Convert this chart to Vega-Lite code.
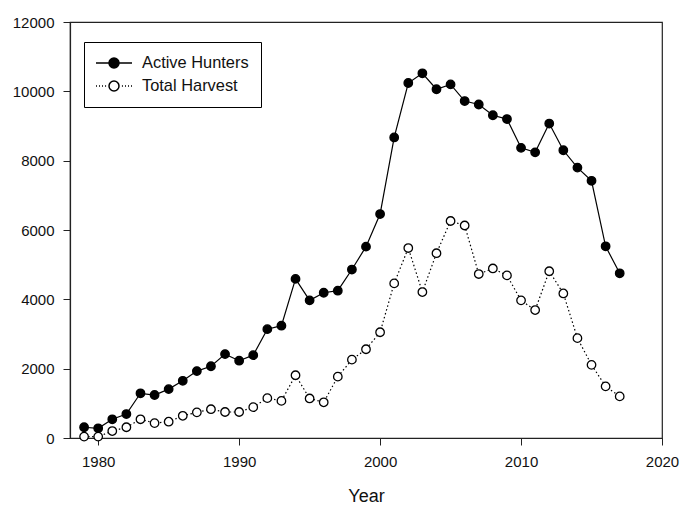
{
  "$schema": "https://vega.github.io/schema/vega-lite/v6.json",
  "width": 592,
  "height": 416,
  "autosize": "none",
  "padding": {"left": 70, "top": 22, "right": 21, "bottom": 68},
  "background": "white",
  "data": {
    "values": [
      {"year": 1979, "series": "Active Hunters", "value": 310},
      {"year": 1980, "series": "Active Hunters", "value": 280},
      {"year": 1981, "series": "Active Hunters", "value": 540},
      {"year": 1982, "series": "Active Hunters", "value": 690},
      {"year": 1983, "series": "Active Hunters", "value": 1290},
      {"year": 1984, "series": "Active Hunters", "value": 1240},
      {"year": 1985, "series": "Active Hunters", "value": 1410},
      {"year": 1986, "series": "Active Hunters", "value": 1650},
      {"year": 1987, "series": "Active Hunters", "value": 1930},
      {"year": 1988, "series": "Active Hunters", "value": 2070},
      {"year": 1989, "series": "Active Hunters", "value": 2420},
      {"year": 1990, "series": "Active Hunters", "value": 2230},
      {"year": 1991, "series": "Active Hunters", "value": 2390},
      {"year": 1992, "series": "Active Hunters", "value": 3140},
      {"year": 1993, "series": "Active Hunters", "value": 3240},
      {"year": 1994, "series": "Active Hunters", "value": 4590},
      {"year": 1995, "series": "Active Hunters", "value": 3970},
      {"year": 1996, "series": "Active Hunters", "value": 4190},
      {"year": 1997, "series": "Active Hunters", "value": 4250},
      {"year": 1998, "series": "Active Hunters", "value": 4860},
      {"year": 1999, "series": "Active Hunters", "value": 5520},
      {"year": 2000, "series": "Active Hunters", "value": 6460},
      {"year": 2001, "series": "Active Hunters", "value": 8670},
      {"year": 2002, "series": "Active Hunters", "value": 10240},
      {"year": 2003, "series": "Active Hunters", "value": 10520},
      {"year": 2004, "series": "Active Hunters", "value": 10060},
      {"year": 2005, "series": "Active Hunters", "value": 10200},
      {"year": 2006, "series": "Active Hunters", "value": 9720},
      {"year": 2007, "series": "Active Hunters", "value": 9620},
      {"year": 2008, "series": "Active Hunters", "value": 9310},
      {"year": 2009, "series": "Active Hunters", "value": 9200},
      {"year": 2010, "series": "Active Hunters", "value": 8370},
      {"year": 2011, "series": "Active Hunters", "value": 8240},
      {"year": 2012, "series": "Active Hunters", "value": 9070},
      {"year": 2013, "series": "Active Hunters", "value": 8300},
      {"year": 2014, "series": "Active Hunters", "value": 7800},
      {"year": 2015, "series": "Active Hunters", "value": 7420},
      {"year": 2016, "series": "Active Hunters", "value": 5530},
      {"year": 2017, "series": "Active Hunters", "value": 4750},
      {"year": 1979, "series": "Total Harvest", "value": 40},
      {"year": 1980, "series": "Total Harvest", "value": 40},
      {"year": 1981, "series": "Total Harvest", "value": 200},
      {"year": 1982, "series": "Total Harvest", "value": 310},
      {"year": 1983, "series": "Total Harvest", "value": 540},
      {"year": 1984, "series": "Total Harvest", "value": 430},
      {"year": 1985, "series": "Total Harvest", "value": 470},
      {"year": 1986, "series": "Total Harvest", "value": 640},
      {"year": 1987, "series": "Total Harvest", "value": 740},
      {"year": 1988, "series": "Total Harvest", "value": 830},
      {"year": 1989, "series": "Total Harvest", "value": 750},
      {"year": 1990, "series": "Total Harvest", "value": 750},
      {"year": 1991, "series": "Total Harvest", "value": 890},
      {"year": 1992, "series": "Total Harvest", "value": 1150},
      {"year": 1993, "series": "Total Harvest", "value": 1070},
      {"year": 1994, "series": "Total Harvest", "value": 1810},
      {"year": 1995, "series": "Total Harvest", "value": 1140},
      {"year": 1996, "series": "Total Harvest", "value": 1030},
      {"year": 1997, "series": "Total Harvest", "value": 1770},
      {"year": 1998, "series": "Total Harvest", "value": 2260},
      {"year": 1999, "series": "Total Harvest", "value": 2560},
      {"year": 2000, "series": "Total Harvest", "value": 3050},
      {"year": 2001, "series": "Total Harvest", "value": 4460},
      {"year": 2002, "series": "Total Harvest", "value": 5480},
      {"year": 2003, "series": "Total Harvest", "value": 4210},
      {"year": 2004, "series": "Total Harvest", "value": 5330},
      {"year": 2005, "series": "Total Harvest", "value": 6260},
      {"year": 2006, "series": "Total Harvest", "value": 6130},
      {"year": 2007, "series": "Total Harvest", "value": 4730},
      {"year": 2008, "series": "Total Harvest", "value": 4890},
      {"year": 2009, "series": "Total Harvest", "value": 4690},
      {"year": 2010, "series": "Total Harvest", "value": 3970},
      {"year": 2011, "series": "Total Harvest", "value": 3690},
      {"year": 2012, "series": "Total Harvest", "value": 4810},
      {"year": 2013, "series": "Total Harvest", "value": 4170},
      {"year": 2014, "series": "Total Harvest", "value": 2880},
      {"year": 2015, "series": "Total Harvest", "value": 2110},
      {"year": 2016, "series": "Total Harvest", "value": 1490},
      {"year": 2017, "series": "Total Harvest", "value": 1200}
    ]
  },
  "encoding": {
    "x": {
      "field": "year",
      "type": "quantitative",
      "scale": {"domain": [1978, 2020], "nice": false, "zero": false},
      "axis": {"values": [1980, 1990, 2000, 2010, 2020], "format": "d", "title": "Year", "titlePadding": 18}
    },
    "y": {
      "field": "value",
      "type": "quantitative",
      "scale": {"domain": [0, 12000], "nice": false},
      "axis": {"values": [0, 2000, 4000, 6000, 8000, 10000, 12000], "format": "d", "title": null}
    }
  },
  "layer": [
    {
      "transform": [{"filter": "datum.series === 'Active Hunters'"}],
      "mark": {"type": "line", "color": "black", "strokeWidth": 1.2},
      "encoding": {}
    },
    {
      "transform": [{"filter": "datum.series === 'Total Harvest'"}],
      "mark": {"type": "line", "color": "black", "strokeWidth": 1.2, "strokeDash": [1.5, 2.5]},
      "encoding": {}
    },
    {
      "transform": [{"filter": "datum.series === 'Active Hunters'"}],
      "mark": {"type": "point", "filled": true, "size": 72, "fill": "black", "stroke": "black", "strokeWidth": 1.3, "opacity": 1},
      "encoding": {}
    },
    {
      "transform": [{"filter": "datum.series === 'Total Harvest'"}],
      "mark": {"type": "point", "filled": true, "size": 72, "fill": "white", "stroke": "black", "strokeWidth": 1.3, "opacity": 1},
      "encoding": {}
    },
    {
      "transform": [{"filter": "datum.year < 0"}],
      "mark": {"type": "point", "filled": true, "stroke": "black", "strokeWidth": 1.2, "opacity": 1},
      "encoding": {
        "fill": {
          "field": "series",
          "type": "nominal",
          "scale": {"domain": ["Active Hunters", "Total Harvest"], "range": ["black", "white"]},
          "legend": {
            "title": null,
            "orient": "none",
            "legendX": 14,
            "legendY": 20,
            "strokeColor": "black",
            "padding": 12,
            "labelFontSize": 16.4,
            "symbolSize": 256,
            "labelOffset": 28,
            "rowPadding": 5
          }
        },
        "shape": {
          "field": "series",
          "type": "nominal",
          "scale": {
            "domain": ["Active Hunters", "Total Harvest"],
            "range": [
              "M-1.125,0H0.5M1.75,0H3.375M0.5,0A0.625,0.625,0,1,1,1.75,0A0.625,0.625,0,1,1,0.5,0Z",
              "M-1.125,0H-0.995M-0.755,0H-0.625M-0.375,0H-0.245M0.005,0H0.135M2.115,0H2.245M2.495,0H2.625M2.875,0H3.005M3.245,0H3.375M0.5,0A0.625,0.625,0,1,1,1.75,0A0.625,0.625,0,1,1,0.5,0Z"
            ]
          },
          "legend": {
            "title": null,
            "orient": "none",
            "legendX": 14,
            "legendY": 20,
            "strokeColor": "black",
            "padding": 12,
            "labelFontSize": 16.4,
            "symbolSize": 256,
            "labelOffset": 28,
            "rowPadding": 5
          }
        }
      }
    }
  ],
  "config": {
    "view": {"stroke": "#222", "strokeWidth": 1.2},
    "legend": {"labelFont": "Liberation Sans", "labelColor": "#111"},
    "axis": {
      "grid": false,
      "domainColor": "#222",
      "domainWidth": 1.2,
      "tickColor": "#222",
      "tickSize": 7,
      "labelFont": "Liberation Sans",
      "labelFontSize": 15,
      "labelColor": "#111",
      "labelPadding": 9,
      "labelFlush": false,
      "titleFont": "Liberation Sans",
      "titleFontSize": 18,
      "titleFontWeight": "normal",
      "titleColor": "#111"
    }
  }
}
